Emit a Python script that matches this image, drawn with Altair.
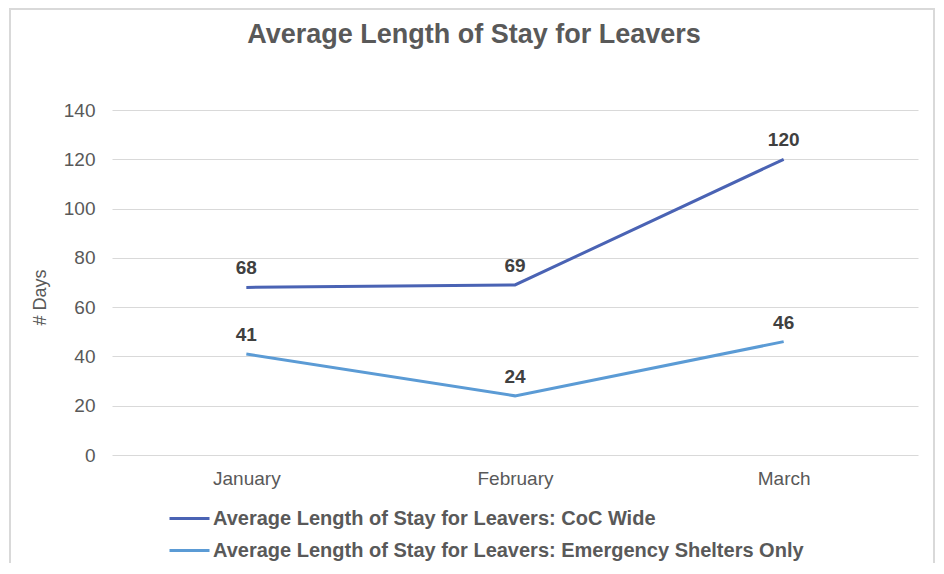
import altair as alt
import pandas as pd

months = ["January", "February", "March"]
series_names = [
    "Average Length of Stay for Leavers: CoC Wide",
    "Average Length of Stay for Leavers: Emergency Shelters Only",
]
coc_wide = [68, 69, 120]
emergency_only = [41, 24, 46]
colors = ["#4a63b4", "#5b9bd5"]

rows = []
for m, v in zip(months, coc_wide):
    rows.append({"month": m, "days": v, "series": series_names[0]})
for m, v in zip(months, emergency_only):
    rows.append({"month": m, "days": v, "series": series_names[1]})
df = pd.DataFrame(rows)

FONT = "Liberation Sans"
GRAY = "#595959"

x_enc = alt.X("month:N", sort=months, title=None,
              scale=alt.Scale(type="point", padding=0.5),
              axis=alt.Axis(labelAngle=0, labelFontSize=19, labelColor=GRAY,
                            labelFont=FONT, ticks=False, domain=False,
                            labelPadding=14, grid=False))
y_enc = alt.Y("days:Q", title="# Days",
              scale=alt.Scale(domain=[0, 140]),
              axis=alt.Axis(values=list(range(0, 141, 20)), labelFontSize=19,
                            labelColor=GRAY, labelFont=FONT, ticks=False,
                            domain=False, labelPadding=17, gridColor="#d9d9d9",
                            gridWidth=1, titleFont=FONT, titleFontSize=18,
                            titleFontWeight="normal", titleColor=GRAY,
                            titleX=-72, titleY=187, titleAngle=-90,
                            titleBaseline="middle", titleAlign="center"))
color_enc = alt.Color("series:N", sort=series_names,
                      scale=alt.Scale(domain=series_names, range=colors),
                      legend=alt.Legend(title=None, orient="none", legendX=56,
                                        legendY=387, direction="vertical",
                                        symbolType="stroke", symbolSize=1600,
                                        symbolStrokeWidth=3, labelFont=FONT,
                                        labelFontSize=20, labelFontWeight="bold",
                                        labelColor=GRAY, labelLimit=900,
                                        labelOffset=2, rowPadding=-9))

base = alt.Chart(df)
lines = base.mark_line(strokeWidth=3).encode(x=x_enc, y=y_enc, color=color_enc)
labels = base.mark_text(font=FONT, fontSize=19, fontWeight="bold",
                        color="#404040", dy=-19, baseline="middle").encode(
    x=alt.X("month:N", sort=months), y="days:Q", text="days:Q")

border_df = pd.DataFrame({"b": [1]})
border = alt.Chart(border_df).mark_rect(fill="transparent", stroke="#d9d9d9",
                                        strokeWidth=2).encode(
    x=alt.value(-102), x2=alt.value(822), y=alt.value(-101), y2=alt.value(480))

chart = alt.layer(border, lines, labels).properties(
    width=806, height=345,
    title=alt.TitleParams("Average Length of Stay for Leavers", font=FONT,
                          fontSize=27, fontWeight="bold", color=GRAY,
                          anchor="middle", dx=-41, offset=-62,
                          baseline="alphabetic"),
    padding={"left": 104, "top": 102, "right": 18, "bottom": 108},
    autosize=alt.AutoSizeParams(type="none"),
).configure_view(stroke=None)

chart.save("out.html", embed_options={"renderer": "svg", "actions": False})
